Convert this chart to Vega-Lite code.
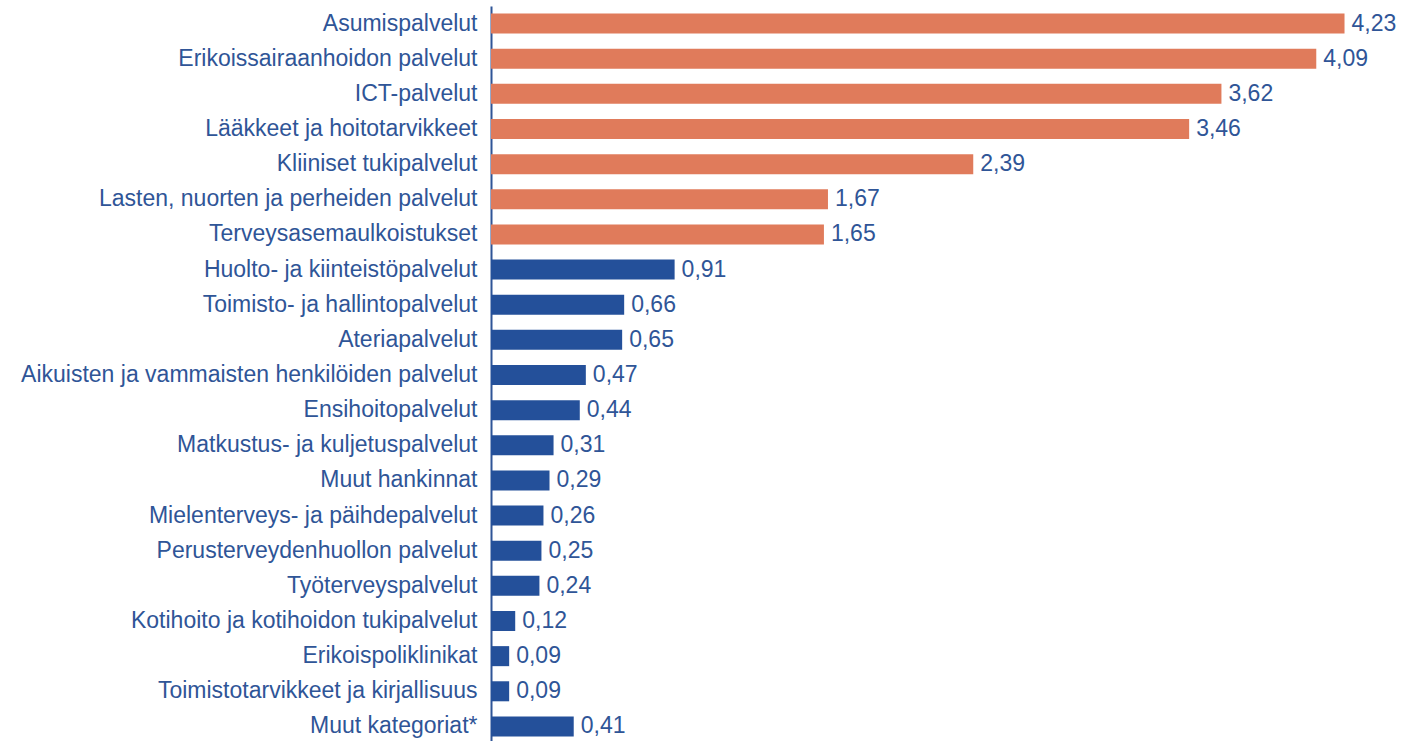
{
  "$schema": "https://vega.github.io/schema/vega-lite/v6.json",
  "autosize": {"type": "none"},
  "width": 908,
  "height": 738,
  "padding": {"left": 491, "top": 6, "right": 2, "bottom": 0},
  "config": {
    "view": {"stroke": null},
    "font": "Liberation Sans",
    "locale": {"number": {"decimal": ",", "thousands": " ", "grouping": [3], "currency": ["", " €"]}}
  },
  "data": {
    "values": [
      {"kategoria": "Asumispalvelut", "arvo": 4.23, "ryhma": "suurimmat"},
      {"kategoria": "Erikoissairaanhoidon palvelut", "arvo": 4.09, "ryhma": "suurimmat"},
      {"kategoria": "ICT-palvelut", "arvo": 3.62, "ryhma": "suurimmat"},
      {"kategoria": "Lääkkeet ja hoitotarvikkeet", "arvo": 3.46, "ryhma": "suurimmat"},
      {"kategoria": "Kliiniset tukipalvelut", "arvo": 2.39, "ryhma": "suurimmat"},
      {"kategoria": "Lasten, nuorten ja perheiden palvelut", "arvo": 1.67, "ryhma": "suurimmat"},
      {"kategoria": "Terveysasemaulkoistukset", "arvo": 1.65, "ryhma": "suurimmat"},
      {"kategoria": "Huolto- ja kiinteistöpalvelut", "arvo": 0.91, "ryhma": "muut"},
      {"kategoria": "Toimisto- ja hallintopalvelut", "arvo": 0.66, "ryhma": "muut"},
      {"kategoria": "Ateriapalvelut", "arvo": 0.65, "ryhma": "muut"},
      {"kategoria": "Aikuisten ja vammaisten henkilöiden palvelut", "arvo": 0.47, "ryhma": "muut"},
      {"kategoria": "Ensihoitopalvelut", "arvo": 0.44, "ryhma": "muut"},
      {"kategoria": "Matkustus- ja kuljetuspalvelut", "arvo": 0.31, "ryhma": "muut"},
      {"kategoria": "Muut hankinnat", "arvo": 0.29, "ryhma": "muut"},
      {"kategoria": "Mielenterveys-  ja päihdepalvelut", "arvo": 0.26, "ryhma": "muut"},
      {"kategoria": "Perusterveydenhuollon palvelut", "arvo": 0.25, "ryhma": "muut"},
      {"kategoria": "Työterveyspalvelut", "arvo": 0.24, "ryhma": "muut"},
      {"kategoria": "Kotihoito ja kotihoidon tukipalvelut", "arvo": 0.12, "ryhma": "muut"},
      {"kategoria": "Erikoispoliklinikat", "arvo": 0.09, "ryhma": "muut"},
      {"kategoria": "Toimistotarvikkeet ja kirjallisuus", "arvo": 0.09, "ryhma": "muut"},
      {"kategoria": "Muut kategoriat*", "arvo": 0.41, "ryhma": "muut"}
    ]
  },
  "encoding": {
    "y": {
      "field": "kategoria",
      "type": "nominal",
      "sort": null,
      "scale": {"paddingInner": 0.43, "paddingOuter": 0.215},
      "axis": {
        "title": null,
        "ticks": false,
        "domainColor": "#2F5597",
        "domainWidth": 2,
        "labelFontSize": 23,
        "labelColor": "#2F5597",
        "labelPadding": 14,
        "labelLimit": 600
      }
    },
    "x": {
      "field": "arvo",
      "type": "quantitative",
      "scale": {"domain": [0, 4.5], "nice": false},
      "axis": null
    }
  },
  "layer": [
    {
      "mark": {"type": "bar"},
      "encoding": {
        "color": {
          "field": "ryhma",
          "type": "nominal",
          "scale": {"domain": ["suurimmat", "muut"], "range": ["#E07B5B", "#24509A"]},
          "legend": null
        }
      }
    },
    {
      "mark": {"type": "text", "align": "left", "baseline": "middle", "dx": 7, "fontSize": 23, "color": "#2F5597"},
      "encoding": {"text": {"field": "arvo", "type": "quantitative", "format": ".2f"}}
    }
  ]
}
